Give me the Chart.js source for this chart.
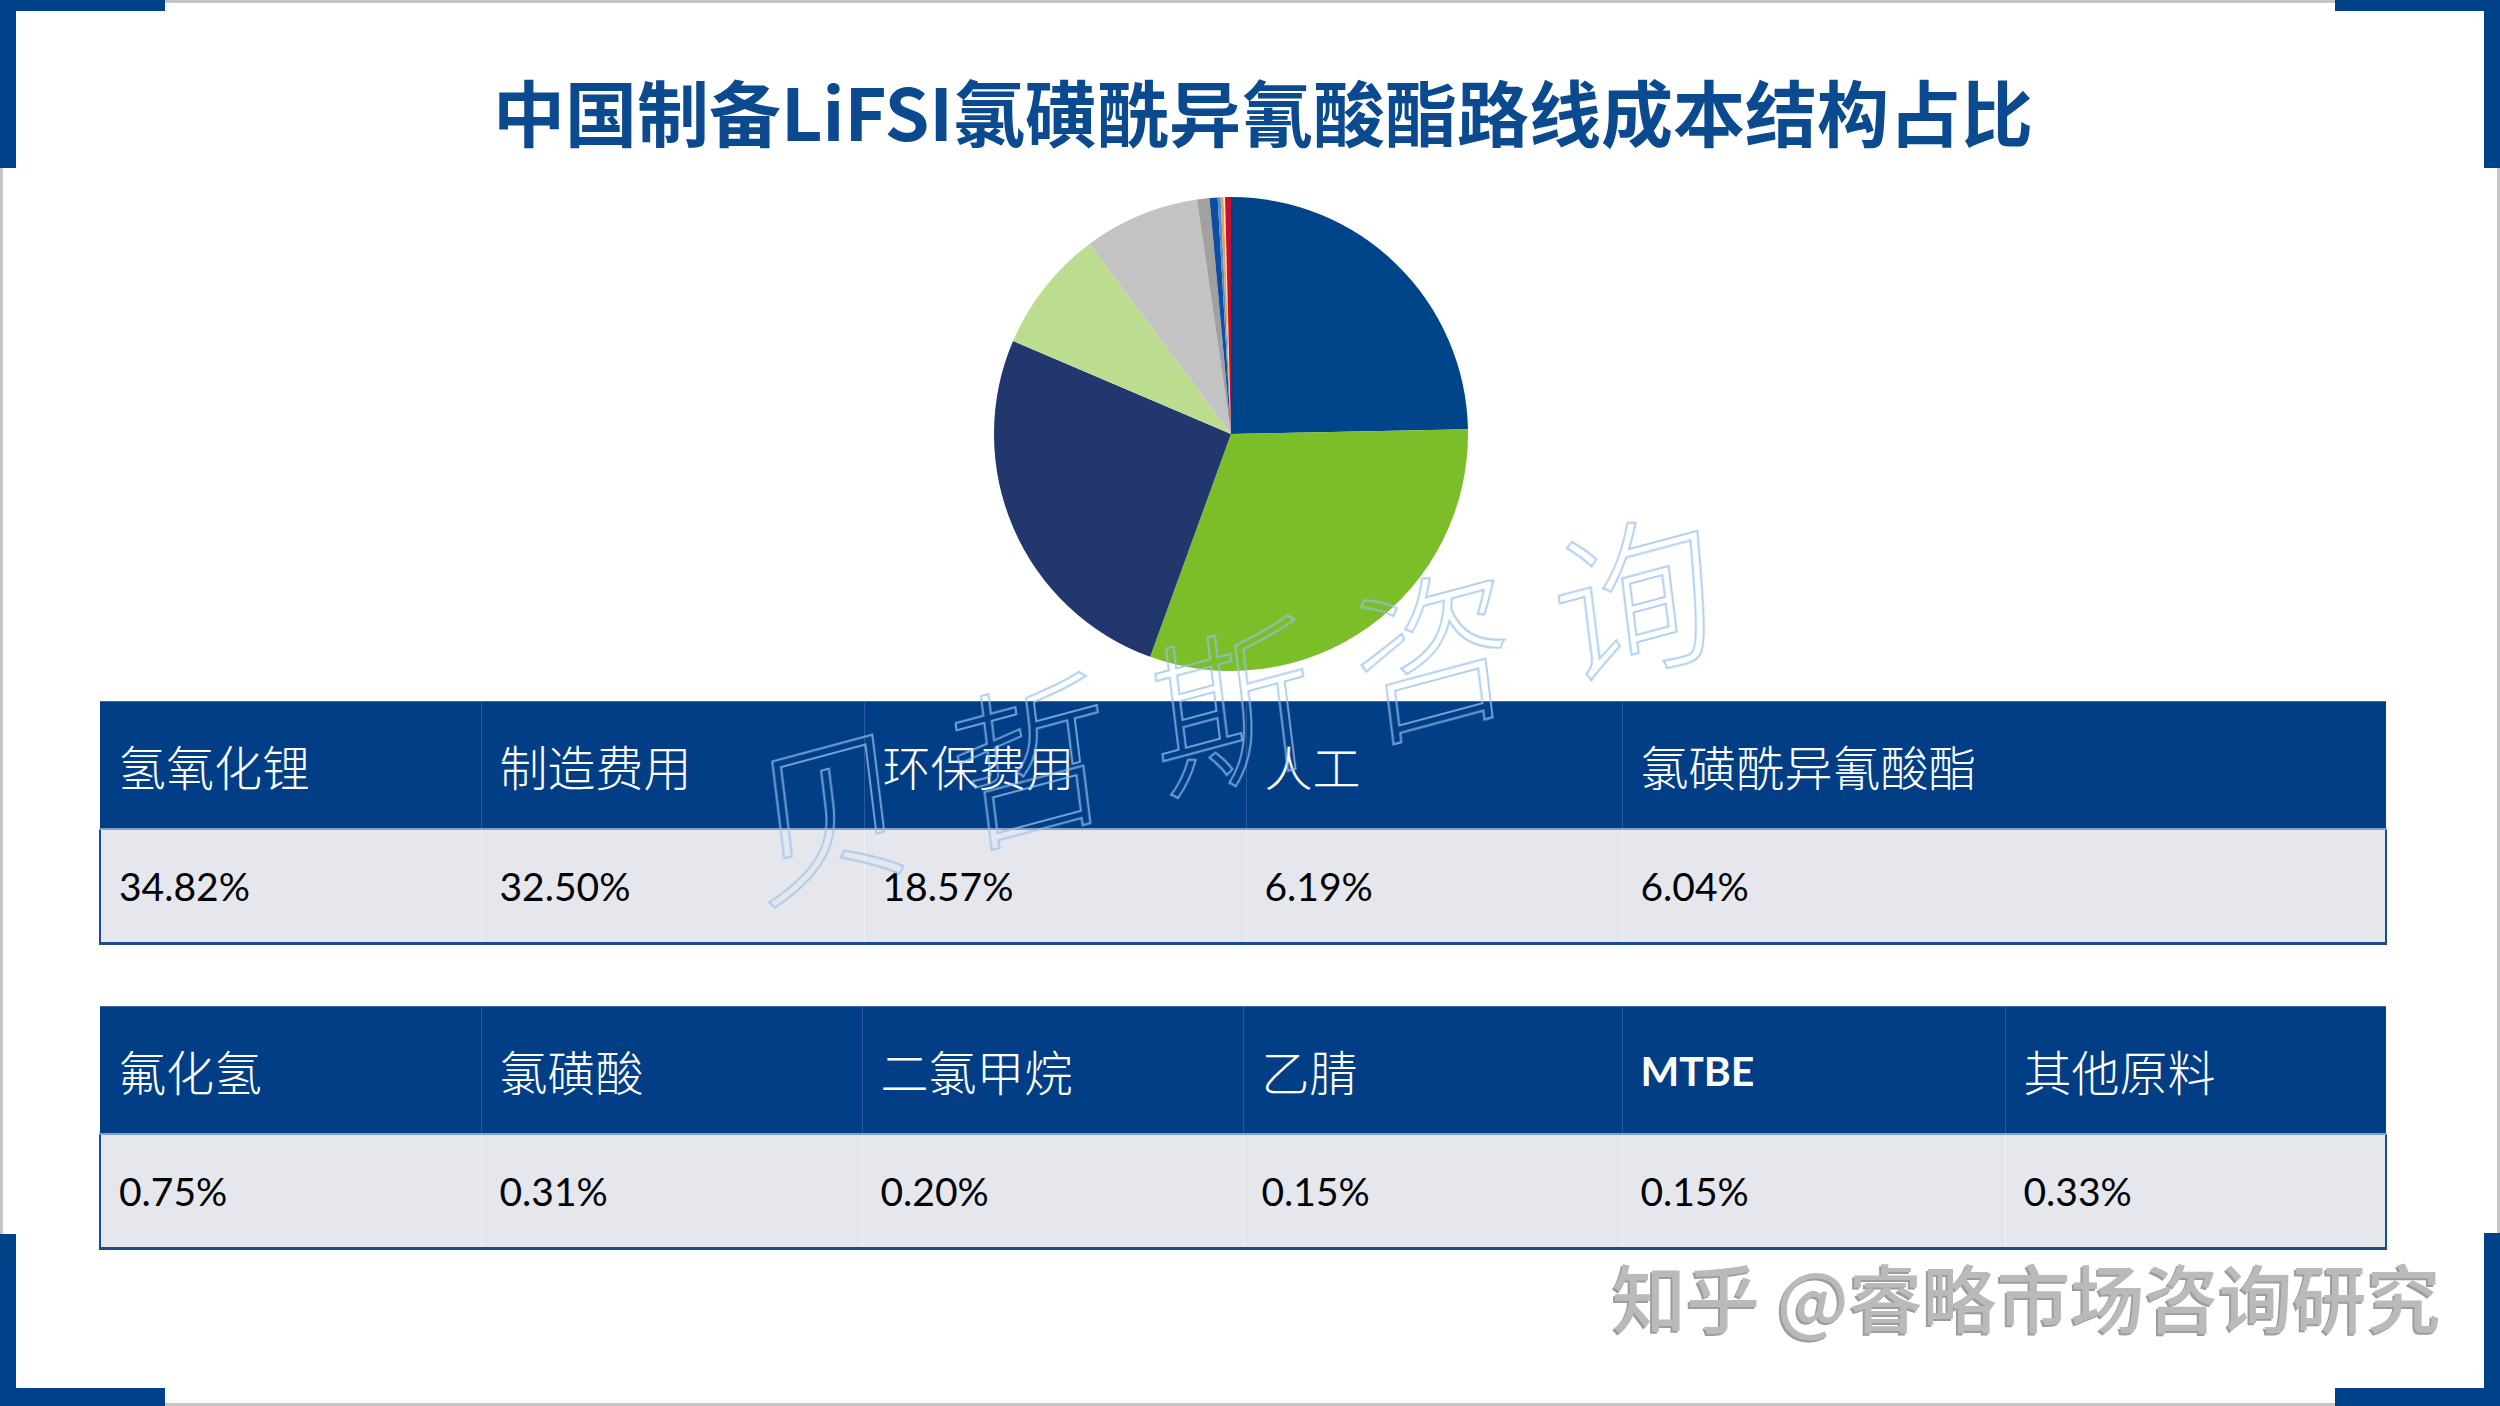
<!DOCTYPE html>
<html lang="zh-CN">
<head>
<meta charset="UTF-8">
<title>中国制备LiFSI氯磺酰异氰酸酯路线成本结构占比</title>
<script src="https://cdn.jsdelivr.net/npm/chart.js"></script>
<style>
    html, body { margin: 0; padding: 0; background: #fff; }
    body { width: 2500px; height: 1406px; position: relative; overflow: hidden; font-family: "Noto Sans CJK SC", sans-serif; }
    .frame { position: absolute; left: 0; top: 0; width: 2500px; height: 1406px; box-sizing: border-box; border: 3px solid #c6c6c6; }
    .corner { position: absolute; background: #00428a; }
    #title { position: absolute; left: 0; top: 70px; width: 2526px; text-align: center; font-size: 72px; line-height: 80px; font-weight: 700; color: #0b4a8f; }
    #pie-box { position: absolute; left: 994px; top: 197px; width: 474px; height: 474px; }
    table.cost { position: absolute; left: 99px; width: 2286px; border-collapse: collapse; table-layout: fixed; }
    table.cost th { height: 126px; background: #023e86; color: #fff; text-align: left; padding: 0 0 0 18px; font-weight: 300; font-size: 48px; border-top: 1px solid #3d6aa6; border-bottom: 2px solid #7fa2cf; border-left: 1px solid #2a5a9a; }
    table.cost td { height: 112px; background: #e6e7ec; color: #000; padding: 0 0 0 18px; font-family: Lato, "Noto Sans", sans-serif; font-size: 39px; border-bottom: 3px solid #1d4c8c; border-left: 1px solid #f2f2f6; }
    table.cost td:first-child { border-left: 2px solid #1d4c8c; }
    table.cost td:last-child { border-right: 2px solid #1d4c8c; }
    table.cost th:first-child { border-left: none; }
    table.cost th.latin { font-family: Lato, sans-serif; font-weight: 700; font-size: 41px; }
    #mark { position: absolute; left: 631px; top: 599px; width: 1200px; padding-left: 43px; box-sizing: border-box; text-align: center; white-space: nowrap; font-size: 165px; line-height: 200px; letter-spacing: 43px; font-weight: 300; color: transparent; -webkit-text-stroke: 2px rgba(150, 192, 238, 0.75); transform: rotate(-15deg) skewX(-8deg); pointer-events: none; }
    #zhihu { position: absolute; left: 1612px; top: 1252px; font-size: 74px; line-height: 86px; font-weight: 500; color: #bababa; text-shadow: -2px 2px 0 #9c9c9c; white-space: nowrap; }
</style>
</head>
<body>
<div class="frame"></div>
<div class="corner" style="left:0;top:0;width:165px;height:11px"></div>
<div class="corner" style="left:0;top:0;width:16px;height:168px"></div>
<div class="corner" style="left:2335px;top:0;width:165px;height:11px"></div>
<div class="corner" style="left:2484px;top:0;width:16px;height:168px"></div>
<div class="corner" style="left:0;top:1234px;width:16px;height:172px"></div>
<div class="corner" style="left:0;top:1388px;width:165px;height:18px"></div>
<div class="corner" style="left:2484px;top:1233px;width:16px;height:173px"></div>
<div class="corner" style="left:2335px;top:1388px;width:165px;height:18px"></div>

<div id="title">中国制备LiFSI氯磺酰异氰酸酯路线成本结构占比</div>

<div id="pie-box"><canvas id="chart_pie"></canvas></div>

<table class="cost" id="table1" style="top:701px"></table>
<table class="cost" id="table2" style="top:1006px"></table>

<div id="mark">贝哲斯咨询</div>
<div id="zhihu">知乎 @睿略市场咨询研究</div>

<script>
// pie slices, clockwise from 12 o'clock
const pieLabels = ['氢氧化锂', '制造费用', '环保费用', '人工', '氯磺酰异氰酸酯', '氟化氢', '氯磺酸', '二氯甲烷', '乙腈', 'MTBE', '其他原料'];
const pieShares = [24.7, 30.9, 25.9, 8.4, 7.9, 0.85, 0.55, 0.2, 0.2, 0.1, 0.4];
const pieColors = ['#00458a', '#7cbd2a', '#22376e', '#bcdd8f', '#c3c3c3', '#a1a1a1', '#0e4da0', '#4a8fd8', '#e8a24a', '#f0e0c0', '#c8102e'];

// table rows
const table1Items = ['氢氧化锂', '制造费用', '环保费用', '人工', '氯磺酰异氰酸酯'];
const table1Values = ['34.82%', '32.50%', '18.57%', '6.19%', '6.04%'];
const table2Items = ['氟化氢', '氯磺酸', '二氯甲烷', '乙腈', 'MTBE', '其他原料'];
const table2Values = ['0.75%', '0.31%', '0.20%', '0.15%', '0.15%', '0.33%'];

const table1Widths = [381, 383, 382, 376, 764];
const table2Widths = [381, 381, 381, 379, 383, 381];

function buildTable(id, items, values, widths) {
    const table = document.getElementById(id);
    let html = '<colgroup>' + widths.map(w => `<col style="width:${w}px">`).join('') + '</colgroup>';
    html += '<tr>' + items.map(t => `<th${/^[A-Za-z]+$/.test(t) ? ' class="latin"' : ''}>${t}</th>`).join('') + '</tr>';
    html += '<tr>' + values.map(v => `<td>${v}</td>`).join('') + '</tr>';
    table.innerHTML = html;
}
buildTable('table1', table1Items, table1Values, table1Widths);
buildTable('table2', table2Items, table2Values, table2Widths);

new Chart(document.getElementById('chart_pie').getContext('2d'), {
    type: 'pie',
    data: { labels: pieLabels, datasets: [{ data: pieShares, backgroundColor: pieColors, borderWidth: 0, hoverOffset: 0 }] },
    options: {
        responsive: true,
        maintainAspectRatio: false,
        animation: false,
        layout: { padding: 0 },
        plugins: { legend: { display: false }, tooltip: { enabled: false } }
    }
});
</script>
</body>
</html>
